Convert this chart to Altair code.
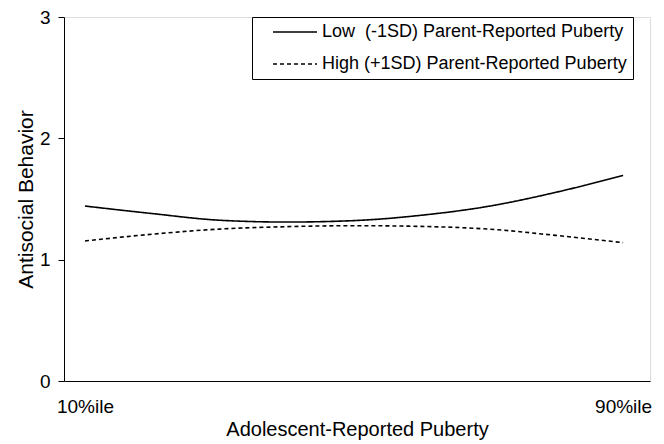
import altair as alt
import pandas as pd

# Data
x_pct = [10, 20, 30, 40, 50, 60, 70, 80, 90]
low_vals = [1.442, 1.380, 1.325, 1.310, 1.322, 1.366, 1.440, 1.555, 1.695]
high_vals = [1.154, 1.210, 1.252, 1.272, 1.280, 1.274, 1.252, 1.200, 1.140]
series_names = ["Low\u00a0 (-1SD) Parent-Reported Puberty",
                "High (+1SD) Parent-Reported Puberty"]
x_tick_values = [10, 90]
x_tick_labels = ["10%ile", "90%ile"]
y_tick_values = [0, 1, 2, 3]

rows = []
for name, vals in zip(series_names, [low_vals, high_vals]):
    for xv, yv in zip(x_pct, vals):
        rows.append({"x": xv, "y": yv, "series": name})
df = pd.DataFrame(rows)

label_expr = " : ".join(
    [f"datum.value == {v} ? '{l}'" for v, l in zip(x_tick_values[:-1], x_tick_labels[:-1])]
    + [f"'{x_tick_labels[-1]}'"]
)

FONT = "Liberation Sans"

chart = alt.Chart(df).mark_line(
    interpolate="monotone", strokeWidth=1.6, color="black"
).encode(
    x=alt.X("x:Q",
            scale=alt.Scale(domain=[6.88, 94.0], nice=False, zero=False),
            axis=alt.Axis(values=x_tick_values, labelExpr=label_expr, ticks=False,
                          grid=False, labelPadding=16, labelFontSize=19,
                          title="Adolescent-Reported Puberty", titleFontSize=20,
                          titleFontWeight="normal", titlePadding=3,
                          domainColor="black", labelColor="black", titleColor="black",
                          labelFont=FONT, titleFont=FONT)),
    y=alt.Y("y:Q",
            scale=alt.Scale(domain=[0, 3], nice=False),
            axis=alt.Axis(values=y_tick_values, format="d", grid=False,
                          tickSize=6, tickColor="black", labelPadding=8,
                          labelFontSize=19, title="Antisocial Behavior",
                          titleFontSize=21, titleFontWeight="normal",
                          titlePadding=3, domainColor="black",
                          labelColor="black", titleColor="black",
                          labelFont=FONT, titleFont=FONT)),
    strokeDash=alt.StrokeDash(
        "series:N",
        sort=series_names,
        scale=alt.Scale(domain=series_names, range=[[1, 0], [4, 3]]),
        legend=alt.Legend(title=None, orient="none", legendX=188, legendY=0,
                          direction="vertical", symbolType="M0.75,0H6.25",
                          symbolSize=256, symbolStrokeWidth=1.5,
                          symbolStrokeColor="black",
                          labelOffset=46, labelFontSize=18, labelFont=FONT,
                          labelColor="black", labelLimit=0, padding=6,
                          rowPadding=14, strokeColor="black",
                          fillColor="white")),
).properties(
    width=586,
    height=364,
    autosize=alt.AutoSizeParams(type="none"),
    padding={"left": 56, "top": 9, "right": 6, "bottom": 60},
).configure_view(stroke=None).configure(font=FONT)

chart.save("out.html", embed_options={"renderer": "svg", "actions": False})
